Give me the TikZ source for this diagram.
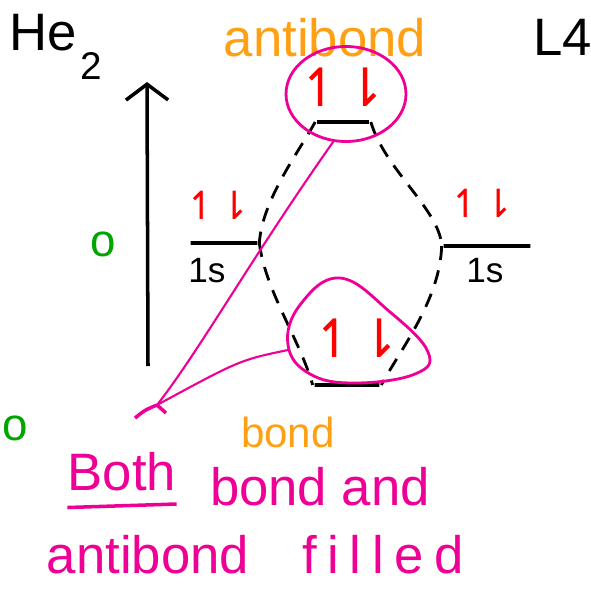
\documentclass[tikz,border=0pt]{standalone}
\usepackage{fontspec}
\setmainfont{Liberation Sans}
\newfontfamily\arrowfont{DejaVu Sans}
\usetikzlibrary{arrows.meta,positioning,shapes.geometric}
\definecolor{inkorange}{RGB}{255,160,20}
\definecolor{inkpink}{RGB}{238,0,150}
\definecolor{inkred}{RGB}{255,0,0}
\definecolor{inkgreen}{RGB}{0,165,0}

\begin{document}
\begin{tikzpicture}[
  x=0.02cm, y=-0.02cm,
  orbital/.style={draw, line width=2.1pt, minimum width=#1, minimum height=0pt, inner sep=0pt},
  spins/.style={text=inkred, font=\arrowfont\fontsize{#1}{#1}\selectfont, inner sep=0pt},
  ink/.style={font=\fontsize{#1}{#1}\selectfont, inner sep=0pt},
  link/.style={line width=1.6pt, dash pattern=on 8pt off 6pt},
  pen/.style={inkpink, line width=1.2pt}
]
\useasboundingbox (0,0) rectangle (591,605);

% energy levels
\node[orbital=1.04cm] (ab) at (343,122) {};
\node[orbital=1.34cm] (l1s) at (224,243) {};
\node[orbital=1.74cm] (r1s) at (487,246) {};
\node[orbital=1.3cm] (bd) at (347,385) {};

\node[spins=30] (abspin) at (343,87) {↿⇂};
\node[spins=22] (lspin) at (218,205) {↿⇂};
\node[spins=22] (rspin) at (482,203) {↿⇂};
\node[spins=30] (bdspin) at (357,338) {↿⇂};

\node[ink=20, anchor=north west] (llab) at (188,258) {1s};
\node[ink=20, anchor=north west] (rlab) at (466,258) {1s};

\draw[link] (ab.west) .. controls (300,150) and (262,200) .. (l1s.east);
\draw[link] (ab.east) .. controls (385,170) and (440,210) .. (r1s.west);
\draw[link] (l1s.east) .. controls (265,290) and (300,340) .. (bd.west);
\draw[link] (r1s.west) .. controls (440,300) and (400,350) .. (bd.east);

% labels
\node[ink=30] (title) at (56,47) {He\kern2pt\raisebox{-0.55em}{\fontsize{22}{22}\selectfont 2}};
\node[ink=30] (lec) at (563,37) {L4};
\node[ink=30, text=inkorange] (abname) at (325,38) {antibond};
\node[ink=24, text=inkorange] (bdname) at (288,432) {bond};
\node[ink=26, text=inkgreen] (zero) at (103,244) {o};
\node[ink=26, text=inkgreen] (zero2) at (15,428) {o};

% energy axis
\coordinate (ebot) at (148,366);
\coordinate (etop) at (147,82);
\draw[-{Straight Barb[length=9pt,width=24pt]}, line width=2pt] (ebot) -- (etop);

% highlight
\node[draw=inkpink, ellipse, line width=1.6pt, minimum width=2.4cm, minimum height=1.9cm] (abring) at (346,94) {};
\draw[inkpink, line width=1.6pt] plot[smooth cycle, tension=0.7] coordinates {(340,278) (300,305) (288,345) (310,374) (355,383) (415,374) (428,352) (390,312)};
\coordinate (bdring) at (288,350);
\coordinate (tip) at (157,405);
\draw[pen] (abring.-105) .. controls (250,260) and (200,350) .. (tip);
\draw[pen] (bdring) .. controls (240,360) .. (tip);
\draw[pen, line width=2pt] (tip) .. controls (145,410) .. (135,418);
\draw[pen, line width=2pt] (tip) -- (166,413);

\node[ink=30, text=inkpink] (both) at (122,472) {Both};
\draw[pen, line width=2pt] ([yshift=-9pt]both.south west) -- ([yshift=-7pt]both.south east);
\node[ink=30, text=inkpink] (bondand) at (320,487) {bond and};
\node[ink=30, text=inkpink] (anti) at (148,555) {antibond};
\node[ink=30, text=inkpink, font=\fontsize{30}{30}\selectfont\addfontfeature{LetterSpace=20}] (filled) at (383,555) {filled};
\end{tikzpicture}
\end{document}
